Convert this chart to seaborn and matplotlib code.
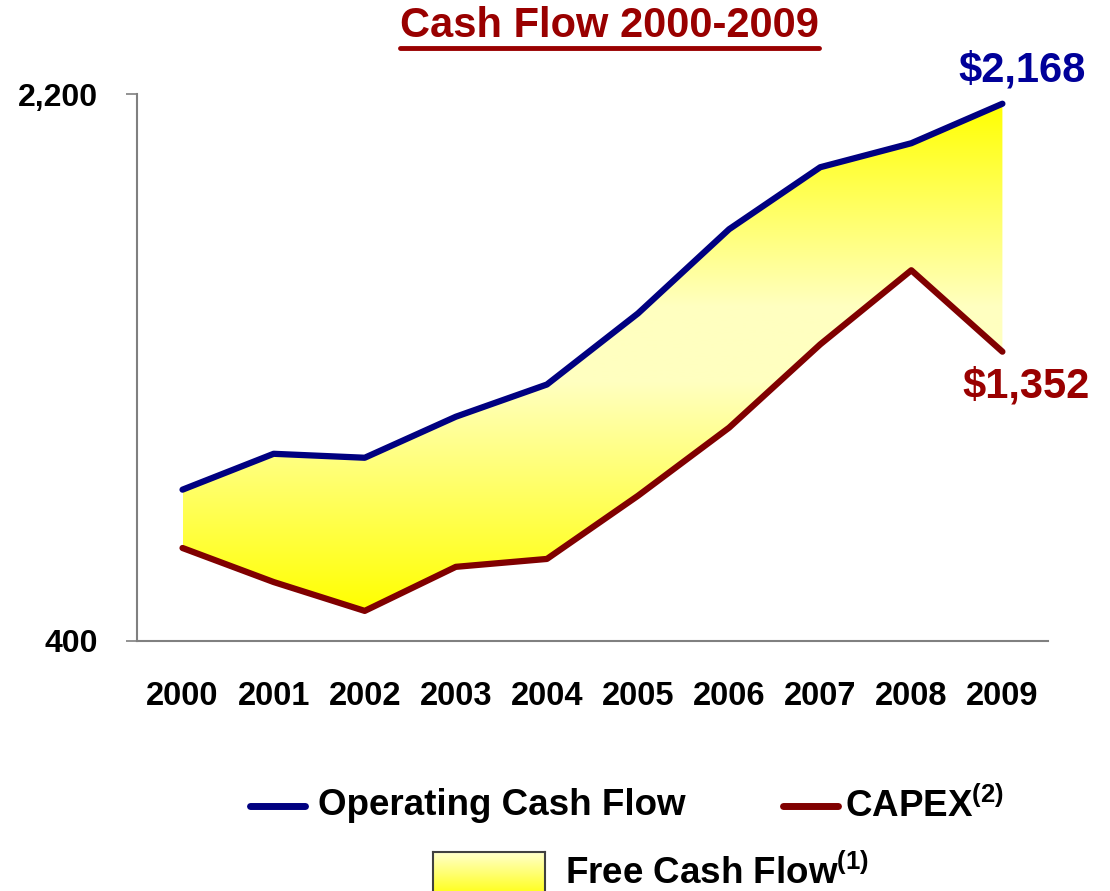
import numpy as np
import pandas as pd
import seaborn as sns
import matplotlib.pyplot as plt
from matplotlib.colors import LinearSegmentedColormap
from matplotlib.lines import Line2D

# values
years = ['2000', '2001', '2002', '2003', '2004', '2005', '2006', '2007', '2008', '2009']
operating_cf = [898, 1016, 1003, 1138, 1244, 1478, 1755, 1959, 2038, 2168]
capex = [706, 594, 499, 644, 670, 878, 1102, 1376, 1620, 1352]
y_ticks = [400, 2200]

NAVY = '#000080'
MAROON = '#800000'
TITLE_RED = '#990000'

sns.set_style('white')
plt.rcParams['font.family'] = ['Liberation Sans', 'DejaVu Sans']
plt.rcParams['font.weight'] = 'bold'
plt.rcParams['text.color'] = 'black'
plt.rcParams['xtick.labelcolor'] = 'black'
plt.rcParams['ytick.labelcolor'] = 'black'
plt.rcParams['mathtext.fontset'] = 'custom'
plt.rcParams['mathtext.rm'] = 'Liberation Sans:bold'
plt.rcParams['mathtext.bf'] = 'Liberation Sans:bold'
plt.rcParams['mathtext.it'] = 'Liberation Sans:bold'
plt.rcParams['mathtext.default'] = 'bf'

df = pd.DataFrame({'x': np.arange(len(years)), 'ocf': operating_cf, 'capex': capex})

fig = plt.figure(figsize=(11.1, 8.91), dpi=100)
ax = fig.add_axes([0.1234, 0.2806, 0.8207, 0.6139])

# free cash flow band with vertical gradient (yellow - pale - yellow)
band = ax.fill_between(df['x'], df['capex'], df['ocf'], facecolor='none', edgecolor='none')
cmap = LinearSegmentedColormap.from_list('fcf', [(0, '#ffff00'), (0.45, '#ffffc0'),
                                                 (0.6, '#ffffc0'), (1, '#ffff00')])
grad = np.linspace(0, 1, 256).reshape(-1, 1)
im = ax.imshow(grad, cmap=cmap, origin='lower', aspect='auto',
               extent=(0, len(years) - 1, min(capex), max(operating_cf)), zorder=1)
im.set_clip_path(band.get_paths()[0], transform=ax.transData)

sns.lineplot(data=df, x='x', y='ocf', ax=ax, color=NAVY, lw=4.5,
             solid_capstyle='round', zorder=3)
sns.lineplot(data=df, x='x', y='capex', ax=ax, color=MAROON, lw=4.5,
             solid_capstyle='round', zorder=3)

ax.set_xlim(-0.5, len(years) - 0.5)
ax.set_ylim(y_ticks[0], y_ticks[-1])
ax.set_xlabel('')
ax.set_ylabel('')

ax.set_xticks(np.arange(len(years)))
ax.set_xticklabels(years)
ax.set_xticks(np.arange(len(years) + 1) - 0.5, minor=True)
ax.tick_params(axis='x', which='major', length=0, pad=29, labelsize=23.5)
ax.tick_params(axis='x', which='minor', length=7.5, width=1, color='#333333', direction='out')
ax.set_yticks(y_ticks)
ax.set_yticklabels([f'{v:,}' for v in y_ticks])
ax.tick_params(axis='y', length=8, width=1.2, color='#808080', direction='out', pad=20, labelsize=23)
ax.tick_params(left=True, bottom=True)

for s in ['top', 'right']:
    ax.spines[s].set_visible(False)
for s in ['left', 'bottom']:
    ax.spines[s].set_color('#808080')
    ax.spines[s].set_linewidth(1.5)

# end labels
ax.annotate(f'${operating_cf[-1]:,}', xy=(len(years) - 1, operating_cf[-1]),
            xytext=(14, 24), textcoords='offset points', ha='center', va='center',
            fontsize=30, fontweight='bold', color='#000099')
ax.annotate(f'${capex[-1]:,}', xy=(len(years) - 1, capex[-1]),
            xytext=(17, -25), textcoords='offset points', ha='center', va='center',
            fontsize=30, fontweight='bold', color=TITLE_RED)

# underlined title
title = fig.text(0.549, 0.971, 'Cash Flow 2000-2009', ha='center', va='center',
                 fontsize=30, fontweight='bold', color=TITLE_RED)
fig.canvas.draw()
bb = title.get_window_extent().transformed(fig.transFigure.inverted())
fig.add_artist(Line2D([bb.x0, bb.x1], [bb.y0 - 0.002, bb.y0 - 0.002],
                      color=TITLE_RED, lw=3.5, transform=fig.transFigure))

# legend drawn by hand
fig.add_artist(Line2D([0.2252, 0.2748], [0.0954, 0.0954], color=NAVY, lw=5,
                      transform=fig.transFigure))
fig.text(0.2865, 0.0954, 'Operating Cash Flow', ha='left', va='center', fontsize=26.5)
fig.add_artist(Line2D([0.7054, 0.755], [0.0954, 0.0954], color=MAROON, lw=5,
                      transform=fig.transFigure))
fig.text(0.7613, 0.0954, r'CAPEX$^{(2)}$', ha='left', va='center', fontsize=26.5)

lax = fig.add_axes([0.390, -0.01, 0.101, 0.054])
lax.imshow(np.linspace(0, 1, 64).reshape(-1, 1),
           cmap=LinearSegmentedColormap.from_list('box', ['#ffff00', '#ffffd0']),
           origin='lower', aspect='auto')
lax.set_xticks([])
lax.set_yticks([])
for s in lax.spines.values():
    s.set_color('#404040')
    s.set_linewidth(1.5)
fig.text(0.509, 0.0202, r'Free Cash Flow$^{(1)}$', ha='left', va='center', fontsize=26.5)

fig.savefig('out.png', dpi=100)
